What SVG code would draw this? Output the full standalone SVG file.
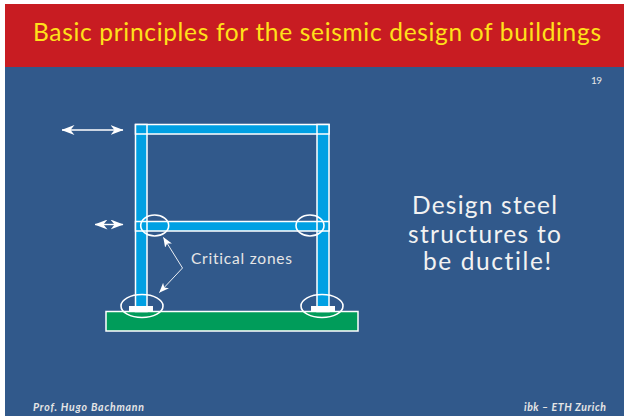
<svg xmlns="http://www.w3.org/2000/svg" width="624" height="416" viewBox="0 0 624 416">
<style>
text{font-family:Lato,"Open Sans","Liberation Sans",sans-serif;font-variant-ligatures:none}
.member{fill:#00a0e3;stroke:#fff;stroke-width:1.5}
.zone{fill:none;stroke:#fff;stroke-width:1.6}
.plate{fill:#fff}
.thin{fill:none;stroke:#fff;stroke-width:.9;marker-start:url(#a);marker-end:url(#a)}
.thick{fill:none;stroke:#fff;stroke-width:1.4;marker-start:url(#b);marker-end:url(#b)}
</style>
<defs>
<marker id="a" viewBox="0 0 10 8" refX="9.5" refY="4" markerWidth="10" markerHeight="8" markerUnits="userSpaceOnUse" orient="auto-start-reverse"><path d="M0 0L10 4L0 8L2.5 4Z" fill="#fff"/></marker>
<marker id="b" viewBox="0 0 13 10" refX="12.5" refY="5" markerWidth="13" markerHeight="10" markerUnits="userSpaceOnUse" orient="auto-start-reverse"><path d="M0 0L13 5L0 10L4 5Z" fill="#fff"/></marker>
</defs>
<rect width="624" height="416" fill="#fff"/>
<rect x="5" y="4" width="619" height="412" fill="#31598b"/>
<rect x="5" y="4" width="619" height="63" fill="#c81c22"/>
<text x="33" y="41" font-size="24.5" fill="#ffe11a" textLength="568" lengthAdjust="spacing">Basic principles for the seismic design of buildings</text>
<text x="591" y="84" font-size="10" fill="#e6e6e6" textLength="11">19</text>
<g id="foundation"><rect x="106" y="311.5" width="252" height="19.5" fill="#009c5a" stroke="#fff" stroke-width="1.5"/></g>
<g id="frame">
<rect class="member" x="135.5" y="124.5" width="11.5" height="187"/>
<rect class="member" x="317" y="124.5" width="12" height="187"/>
<rect class="member" x="135.5" y="124.5" width="193.5" height="9.5"/>
<rect class="member" x="135.5" y="221.5" width="193.5" height="9.5"/>
<path d="M147 124.5V134M317 124.5V134M147 221.5V231M317 221.5V231" stroke="#fff" stroke-width="1.5" fill="none"/>
<rect class="plate" x="129" y="306" width="24" height="5.5"/>
<rect class="plate" x="311" y="306" width="24" height="5.5"/>
</g>
<g id="critical-zones">
<ellipse class="zone" cx="154.7" cy="225.5" rx="14" ry="10.5"/>
<ellipse class="zone" cx="310" cy="225.5" rx="14" ry="10.5"/>
<ellipse class="zone" cx="142" cy="306" rx="21" ry="11.5"/>
<ellipse class="zone" cx="322" cy="306" rx="21" ry="11.5"/>
</g>
<g id="connectors">
<path class="thick" d="M62 130H123"/>
<path class="thick" d="M95 224.5H123"/>
<path class="thin" d="M163.5 237.5L182.5 268L159.5 292.5"/>
</g>
<text id="critical-label" x="191" y="264" font-size="15.5" fill="#e6e6e6" textLength="101">Critical zones</text>
<g id="statement" font-size="24.5" fill="#f2f2f2">
<text x="412" y="214" textLength="145">Design steel</text>
<text x="408" y="242.5" textLength="153">structures to</text>
<text x="423" y="270" textLength="128">be ductile!</text>
</g>
<g font-size="10.5" font-weight="700" font-style="italic" fill="#e6e6e6">
<text x="33" y="411" textLength="111">Prof. Hugo Bachmann</text>
<text x="524" y="411" textLength="82">ibk – ETH Zurich</text>
</g>
</svg>
